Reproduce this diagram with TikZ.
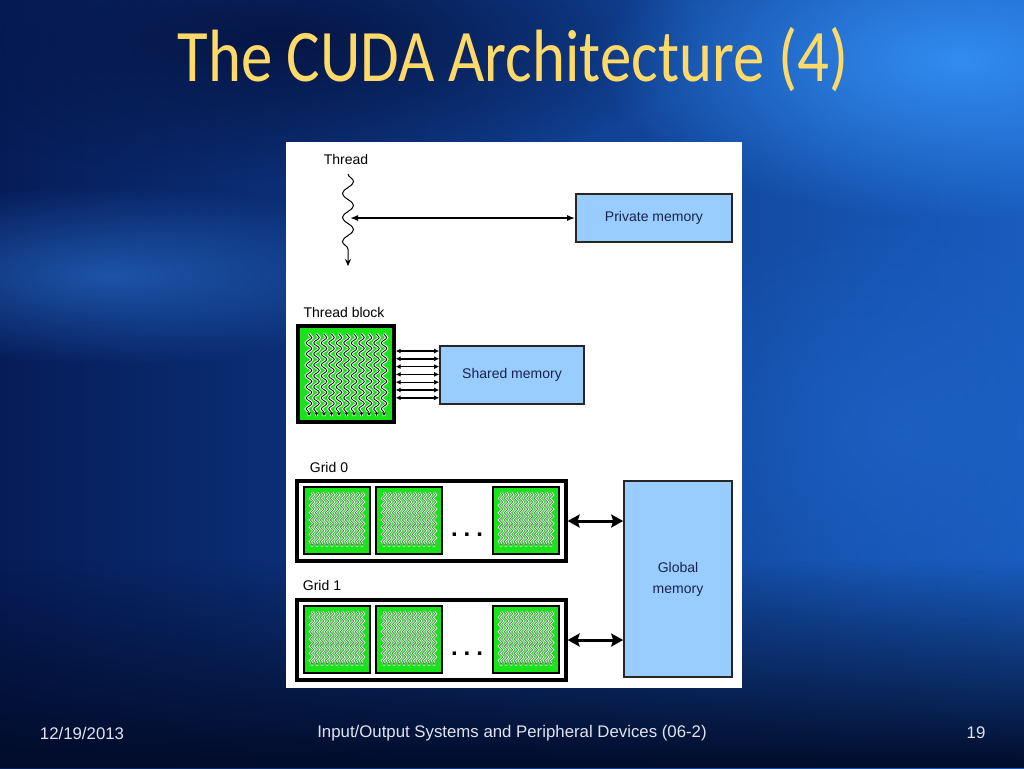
\documentclass[tikz,border=0pt]{standalone}
\usepackage{fontspec}
\setmainfont{Liberation Sans}
\newfontfamily\titlefont{Carlito}
\usetikzlibrary{arrows.meta,decorations.pathmorphing,fadings}

\definecolor{bgnavy}{RGB}{6,28,88}
\definecolor{bgblue}{RGB}{24,92,190}
\definecolor{bgglow}{RGB}{50,140,240}
\definecolor{bgleft}{RGB}{40,110,205}
\definecolor{bgright}{RGB}{30,100,200}
\definecolor{bgdeep}{RGB}{2,12,42}
\definecolor{memblue}{RGB}{153,204,255}
\definecolor{memtext}{RGB}{25,35,75}
\definecolor{blkgreen}{RGB}{25,228,25}
\definecolor{titlegold}{RGB}{255,218,105}
\definecolor{foottext}{RGB}{225,228,240}

\tikzfading[name=fadeup, top color=transparent!100, bottom color=transparent!0]
\tikzfading[name=glow, inner color=transparent!0, outer color=transparent!100]

\begin{document}
\begin{tikzpicture}[x=0.5pt,y=-0.5pt,
  lbl/.style={font=\fontsize{7}{8}\selectfont},
  mem/.style={draw=black!85, line width=0.8pt, fill=memblue, text=memtext,
    font=\fontsize{7}{10.5}\selectfont, align=center},
  tblk/.style={draw=black, line width=1.7pt, fill=blkgreen},
  gridbox/.style={draw=black, line width=1.6pt, fill=white},
  gblk/.style={draw=black, line width=1pt, fill=blkgreen},
  foot/.style={text=foottext, font=\fontsize{8.4}{10}\selectfont},
  bigarr/.style={line width=1.5pt, {Stealth[length=6pt,width=6.5pt,inset=1pt]}-{Stealth[length=6pt,width=6.5pt,inset=1pt]}}]
\useasboundingbox (0,0) rectangle (1024,768);
% background
\shade[left color=bgnavy, right color=bgblue] (0,0) rectangle (1024,768);
\fill[bgnavy!80!black, path fading=glow] (280,40) ellipse (420 and 140);
\fill[bgglow, path fading=glow] (960,60) ellipse (360 and 160);
\fill[bgleft, path fading=glow, opacity=0.65] (110,275) ellipse (320 and 90);
\fill[bgright, path fading=glow, opacity=0.7] (900,430) ellipse (260 and 220);
\fill[bgdeep, path fading=fadeup] (0,560) rectangle (1024,768);
% title
\node[text=titlegold, font=\titlefont\fontsize{31.4}{31}\selectfont] (title) at (513,60)
  {\scalebox{1}[1.18]{The CUDA Architecture (4)}};
% panel
\fill[white] (286,142) rectangle (742,688);
% thread
\node[lbl, anchor=base] (threadlbl) at (346,164) {Thread};
\coordinate (ttop) at (348,174);
\coordinate (tbot) at (348,266);
\coordinate (tmid) at (350,218);
\draw[line width=0.5pt, -{Stealth[length=3.5pt,width=3pt]}, decorate,
  decoration={snake, amplitude=2.8pt, segment length=12pt, post length=3pt}] (ttop) -- (tbot);
\node[mem, minimum width=78pt, minimum height=24pt] (priv) at (654,218) {Private memory};
\draw[line width=0.75pt, {Latex[length=4pt]}-{Latex[length=4pt]}] (tmid) -- (priv.west);
% thread block
\node[lbl, anchor=base] (blocklbl) at (344,317) {Thread block};
\node[tblk, minimum width=48pt, minimum height=48pt] (tblock) at (346,374) {};
\foreach \i in {0,...,10} {
  \draw[white, line width=1.4pt, decorate,
    decoration={snake, amplitude=1.4pt, segment length=5.5pt, post length=1.5pt}]
    ({309+7.5*\i},334) -- ({309+7.5*\i},416);
  \draw[black, line width=0.4pt, -{Stealth[length=2pt,width=1.8pt]}, decorate,
    decoration={snake, amplitude=1.4pt, segment length=5.5pt, post length=1.5pt}]
    ({309+7.5*\i},334) -- ({309+7.5*\i},416);
}
\node[mem, minimum width=72pt, minimum height=29pt] (shared) at (512,375) {Shared memory};
\foreach \k [evaluate=\k as \yy using 351+7.8*\k] in {0,...,6}
  \draw[line width=0.7pt, {Latex[length=2.5pt,width=2.5pt]}-{Latex[length=2.5pt,width=2.5pt]}]
    (tblock.east |- 0,\yy) -- (shared.west |- 0,\yy);
% grids
\node[lbl, anchor=base] (grid0lbl) at (329,472) {Grid 0};
\node[gridbox, minimum width=134.5pt, minimum height=40pt] (grid0) at (431.5,521) {};
\node[lbl, anchor=base] (grid1lbl) at (322,590) {Grid 1};
\node[gridbox, minimum width=134.5pt, minimum height=40pt] (grid1) at (431.5,640) {};
\foreach \g/\gy in {0/520.5,1/639.5} {
  \foreach \bx [count=\b] in {337,409,526} {
    \node[gblk, minimum width=33pt, minimum height=33.5pt] (g\g b\b) at (\bx,\gy) {};
    \foreach \i in {0,...,10} {
      \draw[white, line width=1.1pt, decorate,
        decoration={snake, amplitude=0.9pt, segment length=3.6pt, post length=1pt}]
        ({\bx-25+5*\i},{\gy-28}) -- ({\bx-25+5*\i},{\gy+26});
      \draw[black!55, line width=0.45pt, -{Stealth[length=1.6pt,width=1.6pt]}, decorate,
        decoration={snake, amplitude=0.9pt, segment length=3.6pt, post length=1pt}]
        ({\bx-25+5*\i},{\gy-28}) -- ({\bx-25+5*\i},{\gy+26});
    }
  }
  \node[font=\bfseries\fontsize{12}{12}\selectfont] (dots\g) at (467,{\gy+14}) {.\hspace{3pt}.\hspace{3pt}.};
}
\node[mem, minimum width=54pt, minimum height=98pt] (global) at (678,579) {Global\\memory};
\draw[bigarr] (grid0.east) -- (global.west |- grid0.east);
\draw[bigarr] (grid1.east) -- (global.west |- grid1.east);
% footer
\node[foot] (date) at (82,733) {12/19/2013};
\node[foot] (course) at (512,733) {Input/Output Systems and Peripheral Devices (06-2)};
\node[foot] (page) at (976,733) {19};
\end{tikzpicture}
\end{document}
